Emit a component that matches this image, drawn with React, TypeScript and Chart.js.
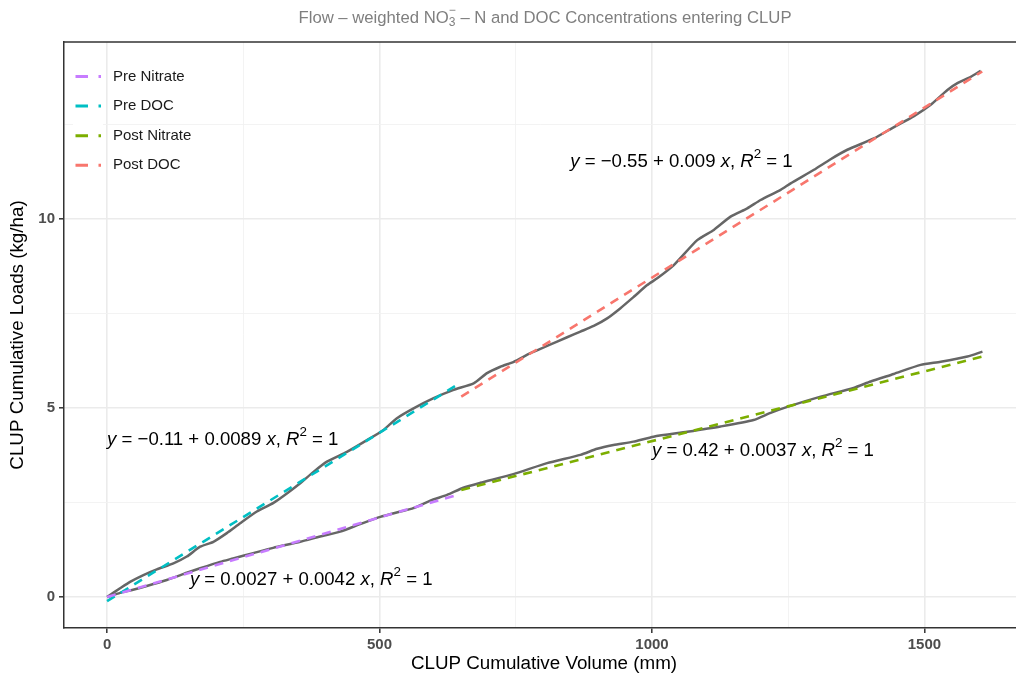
import React, { useEffect, useRef } from 'react';
import { Chart, registerables } from 'chart.js';

Chart.register(...registerables);

// Observed cumulative nitrate load (gray line)
const nitrateVolume = [0, 23.9, 47.8, 72.9, 109.6, 146.4, 170.8, 207.5, 231.4, 268.1, 304.9, 354.5, 391.2, 427.9, 464.6, 501.4, 538.1, 562, 593.2, 623.9, 653.8, 685, 745.6, 807.5, 868.7, 899.4, 929.3, 966, 1002.8, 1064.6, 1125.8, 1186.4, 1217.6, 1248.3, 1309.5, 1370, 1401.3, 1443.5, 1493, 1529.8, 1578.9, 1606.4];
const nitrateLoad = [0, 0.11, 0.19, 0.29, 0.45, 0.64, 0.76, 0.93, 1.02, 1.16, 1.3, 1.46, 1.6, 1.73, 1.93, 2.12, 2.26, 2.35, 2.55, 2.7, 2.89, 3.02, 3.25, 3.54, 3.76, 3.92, 4.02, 4.11, 4.24, 4.37, 4.51, 4.68, 4.87, 5.03, 5.3, 5.53, 5.7, 5.9, 6.14, 6.22, 6.36, 6.49];

// Observed cumulative DOC load (gray line)
const docVolume = [0, 23.9, 42.2, 66.7, 91.3, 121.8, 146.4, 170.8, 195.2, 219.8, 244.3, 274.9, 305.4, 330, 354.5, 378.9, 403.5, 440.2, 477, 507.4, 532, 562.5, 599.3, 636, 672.7, 697.3, 721.8, 746.2, 776.9, 807.5, 844.3, 868.7, 893.1, 917.7, 942.2, 966.6, 991.2, 1009.6, 1040.1, 1083, 1113.5, 1144.2, 1174.9, 1199.3, 1236.1, 1254.4, 1297.2, 1327.8, 1358.5, 1407.3, 1444.1, 1480.8, 1511.5, 1542.1, 1560.5, 1584.9, 1603.3];
const docLoad = [0, 0.23, 0.4, 0.58, 0.73, 0.89, 1.07, 1.33, 1.46, 1.69, 1.95, 2.26, 2.49, 2.74, 3.01, 3.31, 3.58, 3.84, 4.15, 4.42, 4.73, 4.99, 5.26, 5.48, 5.65, 5.92, 6.09, 6.22, 6.45, 6.64, 6.87, 7.02, 7.17, 7.37, 7.64, 7.94, 8.25, 8.43, 8.78, 9.44, 9.71, 10.06, 10.28, 10.5, 10.77, 10.94, 11.3, 11.58, 11.83, 12.13, 12.43, 12.72, 13.02, 13.41, 13.59, 13.76, 13.92];

// Fitted regression lines (endpoints)
const fitNames = ['Pre Nitrate', 'Pre DOC', 'Post Nitrate', 'Post DOC'];
const fitColors = ['#C77CFF', '#00BFC4', '#7CAE00', '#F8766D'];
const preNitrateFitX = [0, 640];
const preNitrateFitY = [0.0027, 2.69];
const preDocFitX = [0, 640];
const preDocFitY = [-0.11, 5.59];
const postNitrateFitX = [650, 1606];
const postNitrateFitY = [2.83, 6.36];
const postDocFitX = [650, 1606];
const postDocFitY = [5.3, 13.9];

// Equation labels
const eqIntercepts = ['\u22120.55', '\u22120.11', '0.0027', '0.42'];
const eqSlopes = ['0.009', '0.0089', '0.0042', '0.0037'];
const eqX = [850, 0, 152, 1000];
const eqY = [11.5, 4.15, 0.45, 3.86];

// Ticks
const xMajor = [0, 500, 1000, 1500];
const xMinor = [250, 750, 1250];
const yMajor = [0, 5, 10];
const yMinor = [2.5, 7.5, 12.5];

const FONT = "'Liberation Sans', Arial, sans-serif";

type Part = { t: string; it?: boolean; sup?: boolean; sub?: boolean; stackSup?: string };

function partFont(p: Part, size: number) {
  const s = p.sup || p.sub || p.stackSup ? size * 0.72 : size;
  return `${p.it ? 'italic ' : ''}${s}px ${FONT}`;
}

function measureRich(ctx: CanvasRenderingContext2D, parts: Part[], size: number) {
  let w = 0;
  for (const p of parts) {
    ctx.font = partFont(p, size);
    let pw = ctx.measureText(p.t).width;
    if (p.stackSup) pw = Math.max(pw, ctx.measureText(p.stackSup).width);
    w += pw;
  }
  return w;
}

function drawRich(ctx: CanvasRenderingContext2D, parts: Part[], x: number, y: number, size: number, color: string, align: 'left' | 'center') {
  const total = measureRich(ctx, parts, size);
  let cx = align === 'center' ? x - total / 2 : x;
  ctx.save();
  ctx.fillStyle = color;
  ctx.textAlign = 'left';
  ctx.textBaseline = 'middle';
  for (const p of parts) {
    ctx.font = partFont(p, size);
    let dy = 0;
    if (p.sup) dy = -size * 0.42;
    if (p.sub) dy = size * 0.3;
    ctx.fillText(p.t, cx, y + dy);
    let pw = ctx.measureText(p.t).width;
    if (p.stackSup) {
      ctx.fillText(p.stackSup, cx, y - size * 0.42);
      pw = Math.max(pw, ctx.measureText(p.stackSup).width);
    }
    cx += pw;
  }
  ctx.restore();
}

const pairs = (xs: number[], ys: number[]) => xs.map((x, i) => ({ x, y: ys[i] }));

export default function App() {
  const ref = useRef<HTMLCanvasElement | null>(null);

  useEffect(() => {
    const canvas = ref.current;
    if (!canvas) return;

    const fitData = [
      pairs(preNitrateFitX, preNitrateFitY),
      pairs(preDocFitX, preDocFitY),
      pairs(postNitrateFitX, postNitrateFitY),
      pairs(postDocFitX, postDocFitY),
    ];

    const overlay = {
      id: 'overlay',
      afterDatasetsDraw(chart: any) {
        const ctx: CanvasRenderingContext2D = chart.ctx;
        const { left, right, top } = chart.chartArea;
        const xs = chart.scales.x;
        const ys = chart.scales.y;

        // top border
        ctx.save();
        ctx.strokeStyle = '#333333';
        ctx.lineWidth = 1.5;
        ctx.beginPath();
        ctx.moveTo(left, top);
        ctx.lineTo(right, top);
        ctx.stroke();
        ctx.restore();

        // equations
        for (let i = 0; i < eqIntercepts.length; i++) {
          const parts: Part[] = [
            { t: 'y', it: true },
            { t: ` = ${eqIntercepts[i]} + ${eqSlopes[i]} ` },
            { t: 'x', it: true },
            { t: ', ' },
            { t: 'R', it: true },
            { t: '2', sup: true },
            { t: ' = 1' },
          ];
          drawRich(ctx, parts, xs.getPixelForValue(eqX[i]), ys.getPixelForValue(eqY[i]), 18.6, '#000000', 'left');
        }

        // legend
        ctx.save();
        ctx.fillStyle = '#FFFFFF';
        ctx.fillRect(73, 61, 30, 119);
        for (let i = 0; i < fitNames.length; i++) {
          const cy = 76.5 + i * 29.6;
          ctx.strokeStyle = fitColors[i];
          ctx.lineWidth = 3;
          ctx.setLineDash([12.5, 10.5]);
          ctx.beginPath();
          ctx.moveTo(75.5, cy);
          ctx.lineTo(101, cy);
          ctx.stroke();
          ctx.setLineDash([]);
          ctx.fillStyle = '#1A1A1A';
          ctx.font = `15px ${FONT}`;
          ctx.textAlign = 'left';
          ctx.textBaseline = 'middle';
          ctx.fillText(fitNames[i], 113, cy);
        }
        ctx.restore();

        // title
        const titleParts: Part[] = [
          { t: 'Flow \u2013 weighted NO' },
          { t: '3', sub: true, stackSup: '\u2212' },
          { t: ' \u2013 N and DOC Concentrations entering CLUP' },
        ];
        drawRich(ctx, titleParts, 545, 18, 16.7, '#7F7F7F', 'center');

        // axis titles
        ctx.save();
        ctx.fillStyle = '#000000';
        ctx.font = `18.8px ${FONT}`;
        ctx.textAlign = 'center';
        ctx.textBaseline = 'middle';
        ctx.fillText('CLUP Cumulative Volume (mm)', 544, 664);
        ctx.translate(18, 335);
        ctx.rotate(-Math.PI / 2);
        ctx.fillText('CLUP Cumulative Loads (kg/ha)', 0, 0);
        ctx.restore();
      },
    };

    const gridColor = (major: number[]) => (c: any) =>
      c.tick && major.includes(c.tick.value) ? '#EBEBEB' : '#F2F2F2';
    const gridWidth = (major: number[]) => (c: any) =>
      c.tick && major.includes(c.tick.value) ? 1.6 : 0.9;
    const tickColor = (major: number[]) => (c: any) =>
      c.tick && major.includes(c.tick.value) ? '#333333' : 'rgba(0,0,0,0)';

    const chart = new Chart(canvas, {
      type: 'line',
      data: {
        datasets: [
          ...fitNames.map((name, i) => ({
            label: name,
            data: fitData[i],
            borderColor: fitColors[i],
            backgroundColor: fitColors[i],
            borderWidth: 2.6,
            borderDash: [9, 7],
            pointRadius: 0,
            fill: false,
            tension: 0,
          })),
          {
            label: 'Observed Nitrate',
            data: pairs(nitrateVolume, nitrateLoad),
            borderColor: '#666666',
            borderWidth: 2.5,
            pointRadius: 0,
            fill: false,
            tension: 0.2,
          },
          {
            label: 'Observed DOC',
            data: pairs(docVolume, docLoad),
            borderColor: '#666666',
            borderWidth: 2.5,
            pointRadius: 0,
            fill: false,
            tension: 0.2,
          },
        ],
      },
      options: {
        animation: false,
        responsive: false,
        devicePixelRatio: 1,
        layout: { padding: { top: 42, left: 0, right: 0, bottom: 0 } },
        plugins: { legend: { display: false }, tooltip: { enabled: false }, title: { display: false } },
        scales: {
          x: {
            type: 'linear',
            min: -79,
            max: 1668,
            afterBuildTicks: (s: any) => {
              s.ticks = [...xMajor, ...xMinor].sort((a, b) => a - b).map((v) => ({ value: v }));
            },
            afterFit: (s: any) => {
              s.height = 49;
            },
            ticks: {
              autoSkip: false,
              maxRotation: 0,
              padding: 3,
              color: '#4D4D4D',
              font: { family: FONT, size: 15, weight: 'bold' },
              callback: (v: any) => (xMajor.includes(v) ? String(v) : ''),
            },
            grid: {
              color: gridColor(xMajor),
              lineWidth: gridWidth(xMajor),
              tickColor: tickColor(xMajor),
              tickLength: 5,
              tickWidth: 1.5,
            },
            border: { display: true, color: '#333333', width: 1.5 },
          },
          y: {
            type: 'linear',
            min: -0.82,
            max: 14.68,
            afterBuildTicks: (s: any) => {
              s.ticks = [...yMajor, ...yMinor].sort((a, b) => a - b).map((v) => ({ value: v }));
            },
            afterFit: (s: any) => {
              s.width = 64;
            },
            ticks: {
              autoSkip: false,
              padding: 4,
              color: '#4D4D4D',
              font: { family: FONT, size: 15, weight: 'bold' },
              callback: (v: any) => (yMajor.includes(v) ? String(v) : ''),
            },
            grid: {
              color: gridColor(yMajor),
              lineWidth: gridWidth(yMajor),
              tickColor: tickColor(yMajor),
              tickLength: 5,
              tickWidth: 1.5,
            },
            border: { display: true, color: '#333333', width: 1.5 },
          },
        },
      },
      plugins: [overlay],
    } as any);

    return () => chart.destroy();
  }, []);

  return (
    <div style={{ position: 'fixed', left: 0, top: 0, width: 1016, height: 677, background: '#FFFFFF' }}>
      <canvas ref={ref} width={1016} height={677} style={{ display: 'block' }} />
    </div>
  );
}
